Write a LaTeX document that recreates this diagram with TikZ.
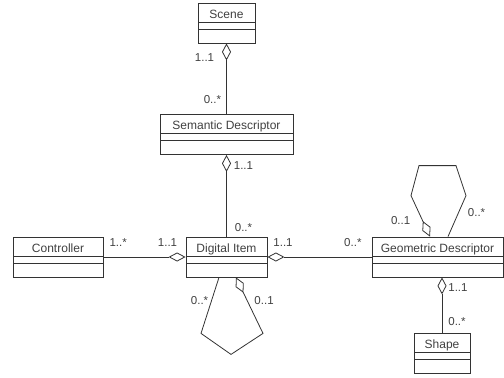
\documentclass[tikz,border=0pt]{standalone}
\usepackage{fontspec}
\setmainfont{Liberation Sans}
\usetikzlibrary{arrows.meta, positioning}

\begin{document}
\begin{tikzpicture}[x=1pt,y=-1pt,on grid,line width=0.8pt,draw=black!80]
    \tikzstyle{umlclass}=[shape=rectangle,draw=black!80,inner sep=0pt,
      text=black!75,font=\fontsize{12}{14}\selectfont,
      text height=15pt,text depth=25pt,
      path picture={
        \draw[black!80] ([yshift=-19pt]path picture bounding box.north west) -- ([yshift=-19pt]path picture bounding box.north east);
        \draw[black!80] ([yshift=-26pt]path picture bounding box.north west) -- ([yshift=-26pt]path picture bounding box.north east);
      }]
    \tikzstyle{mult}=[inner sep=1pt,text=black!75,font=\fontsize{11.5}{13}\selectfont]
    \tikzstyle{aggr}=[draw=black!80,-{Diamond[open,length=17pt,width=9pt]}]

    \useasboundingbox (0,0) rectangle (504,378);

    \node[umlclass,minimum width=57pt] (scene) at (226.5,23) {Scene};
    \node[umlclass,minimum width=133pt,below=111.5pt of scene] (sem) {Semantic Descriptor};
    \node[umlclass,minimum width=81pt,below=122.5pt of sem] (dig) {Digital Item};
    \node[umlclass,minimum width=90pt,left=168.5pt of dig] (ctrl) {Controller};
    \node[umlclass,minimum width=131pt,right=211pt of dig] (geo) {Geometric Descriptor};
    \node[umlclass,minimum width=56pt,below right=96.5pt and 4.5pt of geo] (shape) {Shape};

    \path[aggr]
    (sem) edge node[mult,pos=0.2,left=4pt] {0..*} node[mult,pos=0.8,left=11pt] {1..1} (scene)
    (dig) edge node[mult,pos=0.11,right=7pt] {0..*} node[mult,pos=0.87,right=6pt] {1..1} (sem)
    (ctrl) edge node[mult,pos=0.18,above=9pt] {1..*} node[mult,pos=0.78,above=9pt] {1..1} (dig)
    (geo) edge node[mult,pos=0.18,above=9pt] {0..*} node[mult,pos=0.85,above=9pt] {1..1} (dig)
    (shape) edge node[mult,pos=0.21,right=5pt] {0..*} node[mult,pos=0.82,right=5pt] {1..1} (geo.south -| shape.north)
    ;

    % self associations
    \draw[aggr] ([xshift=-7.5pt]dig.south) -- node[mult,pos=0.41,left=2pt] {0..*} ++(-18,56)
      -- ++(30,21) -- ++(32,-21) -- node[mult,pos=0.59,right=6pt] {0..1} ([xshift=9.5pt]dig.south);
    \draw[aggr] ([xshift=10.5pt]geo.north) -- node[mult,pos=0.585,right=8pt] {0..*} ++(18,-41)
      -- ++(-10,-30) -- ++(-37,0) -- ++(-8,30) -- node[mult,pos=0.61,left=11pt] {0..1} ([xshift=-7.5pt]geo.north);
\end{tikzpicture}
\end{document}
